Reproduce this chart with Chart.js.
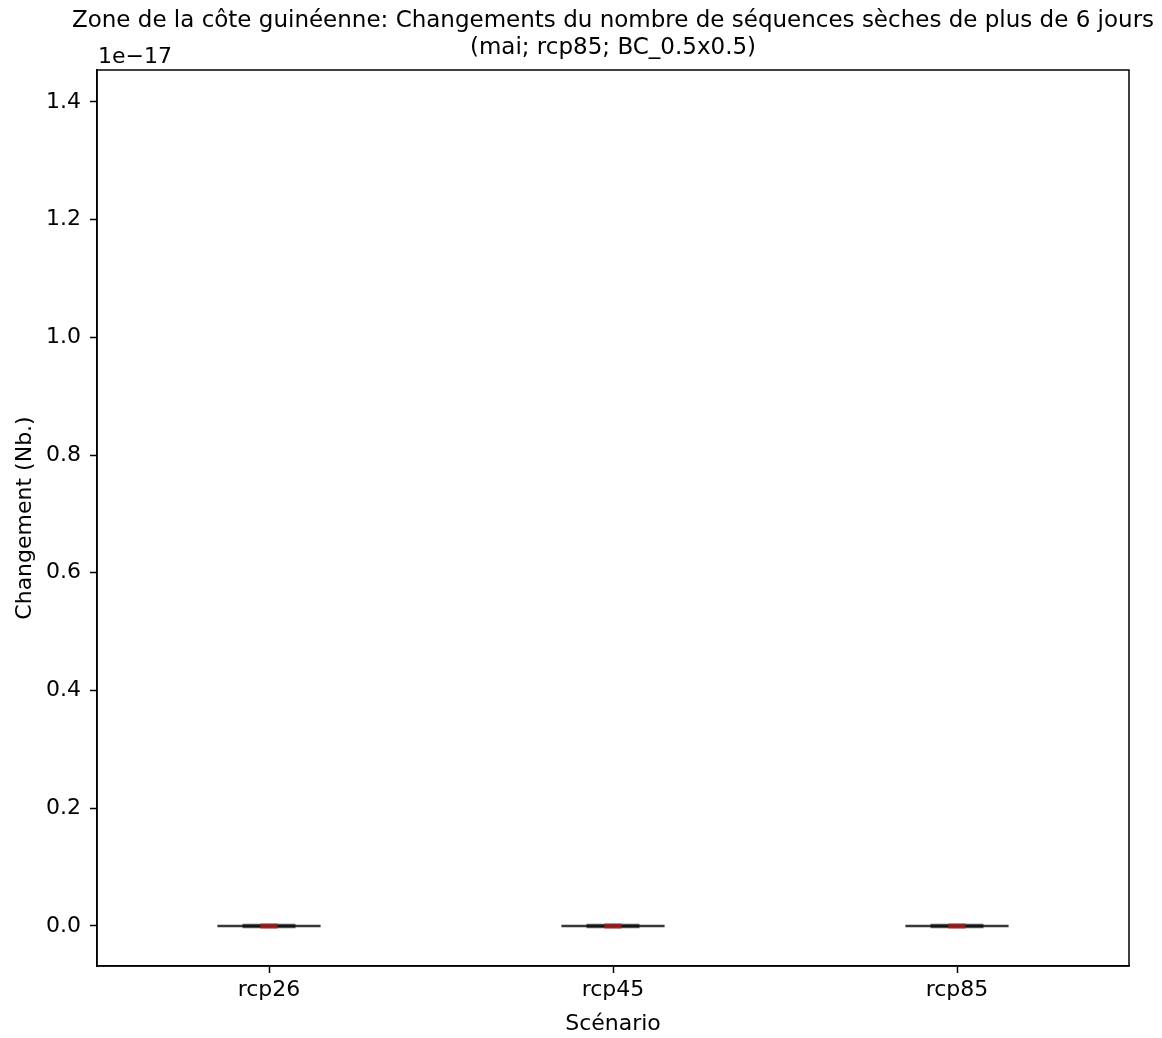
<!DOCTYPE html>
<html>
<head>
<meta charset="utf-8">
<script src="https://cdn.jsdelivr.net/npm/chart.js@4.4.1/dist/chart.umd.min.js"></script>
<style>
  html, body { margin: 0; padding: 0; background: #fff; }
  #wrap { width: 1162px; height: 1038px; position: relative; }
</style>
</head>
<body>
<div id="wrap"><canvas id="boxChart" width="1162" height="1038"></canvas></div>
<script>
// Data (y values in units of 1e-17)
const scenarios = ['rcp26', 'rcp45', 'rcp85'];
const whiskerLow = [0, 0, 0];
const q1 = [0, 0, 0];
const median = [0, 0, 0];
const q3 = [0, 0, 0];
const whiskerHigh = [0, 0, 0];
const yTicks = [0.0, 0.2, 0.4, 0.6, 0.8, 1.0, 1.2, 1.4];
const yRange = [-0.068, 1.454];
const yExponent = '1e\u221217';

const titleLines = [
    'Zone de la côte guinéenne: Changements du nombre de séquences sèches de plus de 6 jours',
    '(mai; rcp85; BC_0.5x0.5)'
];
const xLabel = 'Scénario';
const yLabel = 'Changement (Nb.)';

// Style
const FONT = '"DejaVu Sans", sans-serif';
const CAP_HALF = 0.15;   // in x units
const BOX_HALF = 0.077;
const MED_HALF = 0.025;

// Build line segments; a point with y null breaks the line
const gap = (x) => ({ x: x, y: null });
const segs = (fn) => {
    const out = [];
    scenarios.forEach((s, i) => {
        fn(i + 1, i).forEach(p => out.push(p));
        out.push(gap(i + 1));
    });
    return out;
};

const whiskerPts = segs((x, i) => [
    { x: x - CAP_HALF, y: whiskerLow[i] }, { x: x + CAP_HALF, y: whiskerLow[i] }, gap(x),
    { x: x, y: whiskerLow[i] }, { x: x, y: q1[i] }, gap(x),
    { x: x, y: q3[i] }, { x: x, y: whiskerHigh[i] }, gap(x),
    { x: x - CAP_HALF, y: whiskerHigh[i] }, { x: x + CAP_HALF, y: whiskerHigh[i] }
]);
const boxPts = segs((x, i) => [
    { x: x - BOX_HALF, y: q1[i] }, { x: x + BOX_HALF, y: q1[i] },
    { x: x + BOX_HALF, y: q3[i] }, { x: x - BOX_HALF, y: q3[i] },
    { x: x - BOX_HALF, y: q1[i] }
]);
const medianPts = segs((x, i) => [
    { x: x - MED_HALF, y: median[i] }, { x: x + MED_HALF, y: median[i] }
]);

const lineSet = (label, data, color, width, order) => ({
    label, data, order,
    type: 'line',
    showLine: true,
    spanGaps: false,
    borderColor: color,
    borderWidth: width,
    borderCapStyle: 'butt',
    pointRadius: 0,
    fill: false
});

const framePlugin = {
    id: 'frame',
    afterDraw(chart) {
        const { ctx, chartArea: a } = chart;
        ctx.save();
        ctx.strokeStyle = '#000';
        ctx.lineWidth = 1.5;
        ctx.strokeRect(a.left, a.top, a.right - a.left, a.bottom - a.top);

        ctx.fillStyle = '#000';
        ctx.textAlign = 'center';
        ctx.textBaseline = 'alphabetic';
        const cx = (a.left + a.right) / 2;
        ctx.font = '23px ' + FONT;
        ctx.fillText(titleLines[0], cx, 27);
        ctx.fillText(titleLines[1], cx, 54);

        ctx.font = '22px ' + FONT;
        ctx.fillText(xLabel, cx, 1030);

        ctx.textAlign = 'left';
        ctx.fillText(yExponent, a.left + 1, 63);

        ctx.translate(31, (a.top + a.bottom) / 2);
        ctx.rotate(-Math.PI / 2);
        ctx.textAlign = 'center';
        ctx.fillText(yLabel, 0, 0);
        ctx.restore();
    }
};

new Chart(document.getElementById('boxChart'), {
    type: 'scatter',
    data: {
        datasets: [
            lineSet('median', medianPts, 'rgba(165,30,30,0.85)', 5, 0),
            lineSet('box', boxPts, 'rgba(0,0,0,0.62)', 4.5, 1),
            lineSet('whiskers', whiskerPts, 'rgba(20,20,20,0.85)', 2.5, 2)
        ]
    },
    options: {
        responsive: false,
        animation: false,
        layout: { padding: { top: 70, right: 33, bottom: 0, left: 0 } },
        plugins: {
            legend: { display: false },
            title: { display: false },
            tooltip: { enabled: false }
        },
        scales: {
            x: {
                type: 'linear',
                min: 0.5,
                max: 3.5,
                afterFit: (s) => { s.height = 72; },
                afterBuildTicks: (s) => { s.ticks = scenarios.map((n, i) => ({ value: i + 1 })); },
                ticks: {
                    callback: (v) => scenarios[v - 1],
                    font: { family: FONT, size: 22 },
                    color: '#000',
                    padding: 4,
                    maxRotation: 0
                },
                grid: { drawOnChartArea: false, drawTicks: true, tickLength: 7, tickColor: '#000', tickWidth: 1.5 },
                border: { display: true, color: '#000', width: 1.5 }
            },
            y: {
                type: 'linear',
                min: yRange[0],
                max: yRange[1],
                afterFit: (s) => { s.width = 97; },
                afterBuildTicks: (s) => { s.ticks = yTicks.map(v => ({ value: v })); },
                ticks: {
                    callback: (v) => v.toFixed(1),
                    font: { family: FONT, size: 22 },
                    color: '#000',
                    padding: 9
                },
                grid: { drawOnChartArea: false, drawTicks: true, tickLength: 7, tickColor: '#000', tickWidth: 1.5 },
                border: { display: true, color: '#000', width: 1.5 }
            }
        }
    },
    plugins: [framePlugin]
});
</script>
</body>
</html>
